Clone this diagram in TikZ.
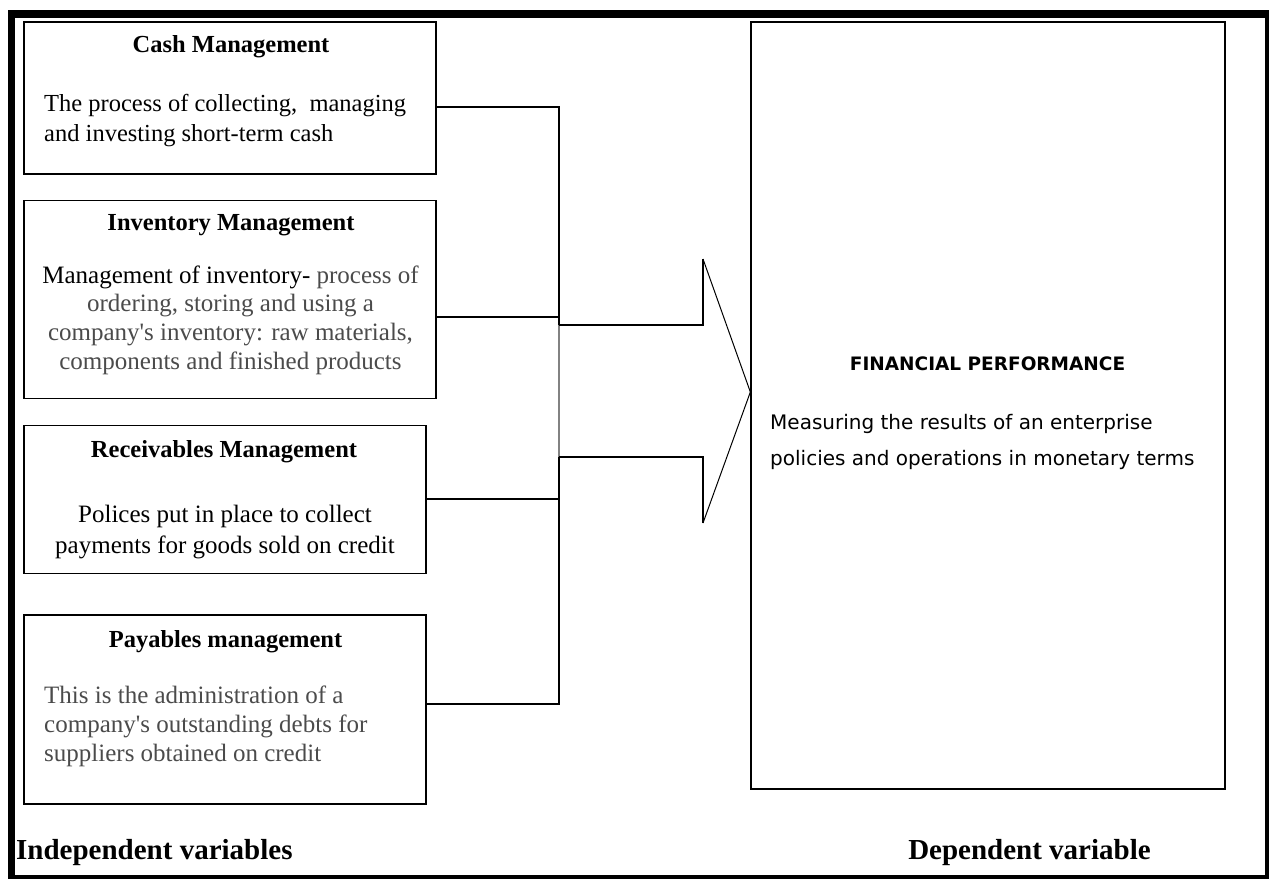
\documentclass[tikz,border=0pt]{standalone}
\usepackage{fontspec}
\setmainfont{Liberation Serif}
\newfontfamily\sansf{DejaVu Sans}
\definecolor{txtgray}{RGB}{75,75,75}
\definecolor{lngray}{RGB}{130,130,130}
\newcommand{\apos}{\textquotesingle}
\begin{document}
\begin{tikzpicture}[x=1pt,y=-1pt,
  box/.style={draw=black,line width=1.5pt,inner sep=0pt},
  ttl/.style={inner sep=0pt,font=\fontsize{24.5}{29}\selectfont\bfseries},
  desc/.style={inner sep=0pt,font=\fontsize{25}{29}\selectfont},
  conn/.style={draw=black,line width=1.8pt},
  lab/.style={inner sep=0pt,font=\fontsize{29}{34}\selectfont\bfseries}]
\useasboundingbox (0,0) rectangle (1269,879);
% outer frame
\fill[black] (8,10) rectangle (1269,879);
\fill[white] (15,18) rectangle (1265,875);

% boxes
\node[box,minimum width=412pt,minimum height=152pt] (cash) at (230,98) {};
\node[box,minimum width=412pt,minimum height=198pt] (inv) at (230,299.5) {};
\node[box,minimum width=402pt,minimum height=148pt] (rec) at (225,499.5) {};
\node[box,minimum width=402pt,minimum height=189pt] (pay) at (225,709.5) {};
\node[box,line width=1.3pt,minimum width=474pt,minimum height=767pt] (fin) at (988,405.5) {};

% texts
\node[ttl] (cashT) at (231,47) {Cash Management};
\node[desc,anchor=west,align=left,font=\fontsize{24.5}{30}\selectfont] (cashD) at (44,121)
  {The process of collecting,\ \ managing\\and investing short-term cash};

\node[ttl] (invT) at (231,225) {Inventory Management};
\node[desc,align=center,font=\fontsize{25}{28.7}\selectfont] (invD) at (230.5,320)
  {Management of inventory- \textcolor{txtgray}{process of}\\
   \color{txtgray}ordering, storing and using a\\
   \color{txtgray}company\apos s inventory: raw materials,\\
   \color{txtgray}components and finished products};

\node[ttl] (recT) at (224,452) {Receivables Management};
\node[desc,align=center,font=\fontsize{25}{31}\selectfont] (recD) at (225,532)
  {Polices put in place to collect\\payments for goods sold on credit};

\node[ttl] (payT) at (225.5,642) {Payables management};
\node[desc,anchor=west,align=left,text=txtgray] (payD) at (44,726)
  {This is the administration of a\\company\apos s outstanding debts for\\suppliers obtained on credit};

\node[inner sep=0pt,font=\sansf\fontsize{18.5}{22}\selectfont\bfseries] (finT) at (987.5,364) {FINANCIAL PERFORMANCE};
\node[inner sep=0pt,anchor=west,align=left,font=\sansf\fontsize{20}{36.5}\selectfont] (finD) at (770,442)
  {Measuring the results of an enterprise\\policies and operations in monetary terms};

\node[lab,anchor=west] (indep) at (16,853) {Independent variables};
\node[lab] (dep) at (1029.5,853) {Dependent variable};

% connectors
\coordinate (jc) at (559,107);
\coordinate (ji) at (559,317);
\coordinate (jr) at (559,499);
\coordinate (jp) at (559,704);
\coordinate (a1) at (559,325);
\coordinate (a2) at (703,325);
\coordinate (a3) at (703,259);
\coordinate (tip) at (fin.west |- 0,392);
\coordinate (a5) at (703,523);
\coordinate (a6) at (703,457);
\coordinate (a7) at (559,457);

\draw[conn] (cash.east |- jc) -- (jc) -- (a1);
\draw[conn] (inv.east |- ji) -- (ji);
\draw[conn] (rec.east |- jr) -- (jr);
\draw[conn] (pay.east |- jp) -- (jp) -- (a7);
\draw[conn,draw=lngray,line width=2.2pt] (a1) -- (a7);
\draw[conn] (a1) -- (a2) -- (a3);
\draw[black,line width=1pt] (a3) -- (tip) -- (a5);
\draw[conn] (a5) -- (a6) -- (a7);
\end{tikzpicture}
\end{document}
